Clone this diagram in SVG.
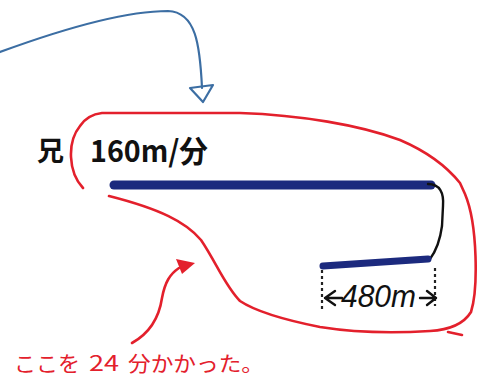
<svg xmlns="http://www.w3.org/2000/svg" width="478" height="376" viewBox="0 0 478 376">
<style>
.red{fill:none;stroke:#e3202c;stroke-width:2.6;stroke-linecap:round;stroke-linejoin:round}
.blue{fill:none;stroke:#3c6ea3;stroke-width:2.2;stroke-linecap:round;stroke-linejoin:round}
.track{fill:none;stroke:#1c2a7e;stroke-linecap:round}
.ink{fill:none;stroke:#111;stroke-width:2.4;stroke-linecap:round;stroke-linejoin:round}
.dot{fill:none;stroke:#222;stroke-width:2.2;stroke-dasharray:3 3}
.jp{font-family:"Noto Sans CJK JP","Liberation Sans",sans-serif}
</style>
<rect width="478" height="376" fill="#fff"/>
<g id="connectors">
  <path class="blue" d="M 0,52 C 60,30 125,11 168,11 C 196,12 200,45 202,88"/>
  <polygon class="blue" points="190,88 213,85 203,102"/>
  <path class="red" d="M 132,343 C 150,333 159,318 162,298 C 165,282 170,274 179,268"/>
  <polygon points="176,259 195,263 182,274" fill="#e3202c"/>
</g>
<g id="loop">
  <path class="red" d="M 83,188 C 68,172 67,142 80,126 C 86,117 93,114 102,113 L 240,113 C 300,115 360,125 400,140 C 428,152 448,168 460,183 L 465,194 C 478,225 478,290 471,312 C 463,325 447,330 430,331 C 380,334 345,331 320,327 C 285,320 255,311 240,301 C 225,286 216,262 201,240 C 186,222 160,209 109,196"/>
  <path class="red" d="M 448,332 L 462,335" stroke-width="1.6"/>
</g>
<g id="track">
  <path class="track" stroke-width="9" d="M 114,185 L 431,185"/>
  <path class="ink" d="M 428,184 C 440,184 444,193 443,206 L 442,226 C 440,241 436,251 430,259"/>
  <path class="track" stroke-width="7" d="M 323,266 L 428,259"/>
</g>
<g id="label-brother">
  <text x="37" y="161" class="jp" font-size="27" font-weight="bold" fill="#111">兄</text>
  <text x="90" y="162" class="jp" font-size="30" font-weight="bold" fill="#111" textLength="118" lengthAdjust="spacingAndGlyphs">160m/分</text>
</g>
<g id="dimension">
  <path class="dot" d="M 322,270 L 322,312"/>
  <path class="dot" d="M 435,268 L 435,306"/>
  <path class="ink" d="M 325,298 L 342,298 M 335,291 L 325,298 L 335,305"/>
  <path class="ink" d="M 420,298 L 436,298 M 427,291 L 436,298 L 427,305"/>
  <text x="341" y="307" font-family="Liberation Sans, sans-serif" font-style="italic" font-size="31" fill="#111" textLength="75" lengthAdjust="spacingAndGlyphs">480m</text>
</g>
<g id="note">
  <text y="371" class="jp" font-size="21" fill="#e3202c"><tspan x="14" textLength="66" lengthAdjust="spacingAndGlyphs">ここを</tspan><tspan x="89" textLength="30" lengthAdjust="spacingAndGlyphs">24</tspan><tspan x="128" textLength="136" lengthAdjust="spacingAndGlyphs">分かかった。</tspan></text>
</g>
</svg>
